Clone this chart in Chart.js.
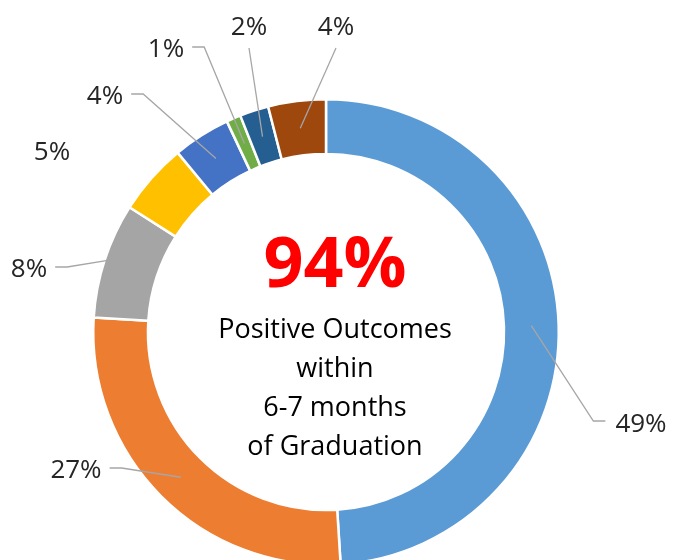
<!DOCTYPE html>
<html>
<head>
<meta charset="utf-8">
<script src="https://cdn.jsdelivr.net/npm/chart.js@4/dist/chart.umd.min.js"></script>
<style>
  html, body { margin: 0; padding: 0; background: #fff; overflow: hidden; }
  #wrap { position: relative; width: 673px; height: 600px; }
</style>
</head>
<body>
<div id="wrap"><canvas id="chart-outcomes"></canvas></div>
<script>
// data
const categories = ['A', 'B', 'C', 'D', 'E', 'F', 'G', 'H'];
const shares = [49, 27, 8, 5, 4, 1, 2, 4];
const sliceLabels = ['49%', '27%', '8%', '5%', '4%', '1%', '2%', '4%'];
const headline = '94%';
const subLines = ['Positive Outcomes', 'within', '6-7 months', 'of Graduation'];

// styles / layout
const colors = ['#5B9BD5', '#ED7D31', '#A5A5A5', '#FFC000', '#4472C4', '#70AD47', '#255E91', '#9E480E'];
// label centre offsets from the doughnut centre
const labelOffsets = [[315, 90], [-250, 136], [-297, -65], [-274, -182], [-221, -238], [-160, -285], [-77, -307], [10, -307]];
const leaderSide = ['left', 'right', 'right', null, 'right', 'right', 'bottom', 'bottom'];
// where the leader touches the ring: 0 = outer edge, 1 = inner edge
const anchorDepth = [0.5, 0.5, 0.03, 0.5, 0.5, 0.5, 0.5, 0.5];

const FONT = '"Open Sans", "Noto Sans", sans-serif';

const labelsPlugin = {
    id: 'outerLabels',
    afterDraw(chart) {
        const ctx = chart.ctx;
        const meta = chart.getDatasetMeta(0);
        ctx.save();
        ctx.font = '26px ' + FONT;
        ctx.textAlign = 'center';
        ctx.textBaseline = 'alphabetic';
        meta.data.forEach((arc, i) => {
            const cx = arc.x, cy = arc.y;
            const lx = cx + labelOffsets[i][0];
            const ly = cy + labelOffsets[i][1];
            const w = ctx.measureText(sliceLabels[i]).width;
            ctx.fillStyle = '#262626';
            ctx.fillText(sliceLabels[i], lx, ly + 9.5);

            const side = leaderSide[i];
            if (!side) return;
            const mid = (arc.startAngle + arc.endAngle) / 2;
            const r = arc.outerRadius - anchorDepth[i] * (arc.outerRadius - arc.innerRadius);
            const ax = cx + r * Math.cos(mid);
            const ay = cy + r * Math.sin(mid);

            ctx.strokeStyle = '#A6A6A6';
            ctx.lineWidth = 1.3;
            ctx.beginPath();
            if (side === 'left') {
                const sx = lx - w / 2 - 10;
                ctx.moveTo(sx, ly - 1);
                ctx.lineTo(sx - 12, ly - 1);
            } else if (side === 'right') {
                const sx = lx + w / 2 + 8;
                ctx.moveTo(sx, ly);
                ctx.lineTo(sx + 12, ly);
            } else {
                ctx.moveTo(lx, ly + 23);
            }
            ctx.lineTo(ax, ay);
            ctx.stroke();
        });
        ctx.restore();
    }
};

const centerTextPlugin = {
    id: 'centerText',
    afterDraw(chart) {
        const ctx = chart.ctx;
        const arc = chart.getDatasetMeta(0).data[0];
        const x = arc.x + 9, y = arc.y;
        ctx.save();
        ctx.textAlign = 'center';
        ctx.textBaseline = 'alphabetic';
        ctx.fillStyle = '#FF0000';
        ctx.font = 'bold 70px ' + FONT;
        ctx.fillText(headline, x, y - 45);
        ctx.fillStyle = '#000000';
        ctx.font = '27px ' + FONT;
        subLines.forEach((line, i) => {
            ctx.fillText(line, x, y + 6 + i * 39);
        });
        ctx.restore();
    }
};

new Chart(document.getElementById('chart-outcomes'), {
    type: 'doughnut',
    data: {
        labels: categories,
        datasets: [{
            data: shares,
            backgroundColor: colors,
            borderColor: '#ffffff',
            borderWidth: 2.5
        }]
    },
    options: {
        responsive: true,
        maintainAspectRatio: false,
        animation: false,
        cutout: '76.5%',
        layout: { padding: { left: 92, right: 113, top: 98, bottom: 34 } },
        plugins: {
            legend: { display: false },
            tooltip: { enabled: false }
        }
    },
    plugins: [labelsPlugin, centerTextPlugin]
});
</script>
</body>
</html>
